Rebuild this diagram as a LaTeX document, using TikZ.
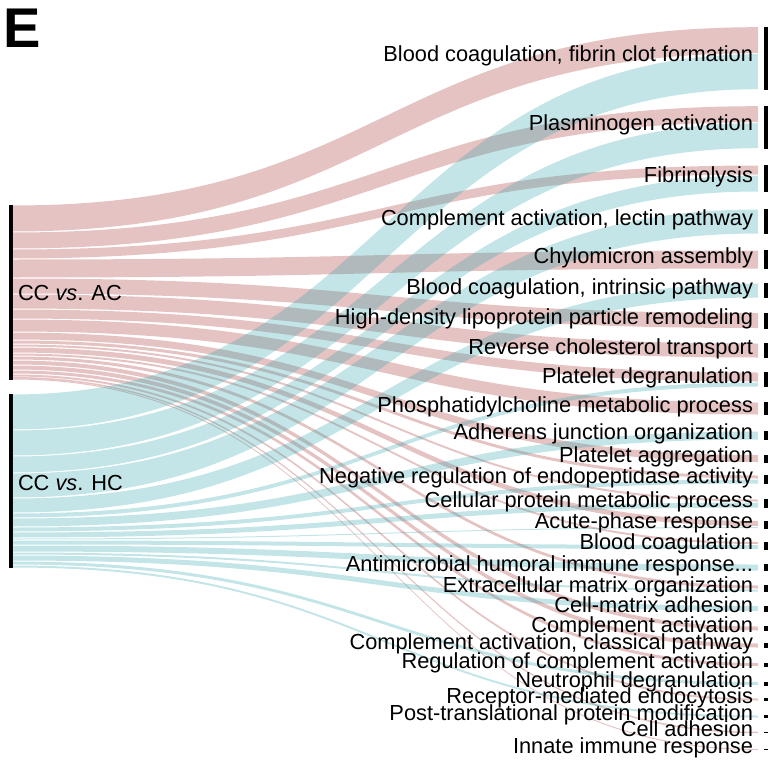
\documentclass[tikz,border=0pt]{standalone}
\usepackage{fontspec}
\setmainfont{Liberation Sans}
\usetikzlibrary{calc}
\definecolor{pinkbase}{RGB}{168,55,55}
\definecolor{cyanbase}{RGB}{55,168,175}
\tikzset{
  barnode/.style={fill=black, draw=none, inner sep=0pt, outer sep=0pt, minimum width=4pt},
  pinkflow/.style={fill=pinkbase, fill opacity=0.3, draw=none},
  cyanflow/.style={fill=cyanbase, fill opacity=0.3, draw=none},
  lab/.style={inner sep=0pt, outer sep=0pt, font=\fontsize{21.8pt}{24pt}\selectfont, text=black},
}
\def\rowdata{27/36/61.7/{Blood coagulation, fibrin clot formation},
17/26/130.7/{Plasminogen activation},
10/17/182/{Fibrinolysis},
0/25/225/{Complement activation, lectin pathway},
19/0/263/{Chylomicron assembly},
0/15/294/{Blood coagulation, intrinsic pathway},
16/0/324/{High-density lipoprotein particle remodeling},
15/0/354/{Reverse cholesterol transport},
10/5/383/{Platelet degranulation},
13/0/412/{Phosphatidylcholine metabolic process},
0/9/439/{Adherens junction organization},
8/0/462/{Platelet aggregation},
4/5/483/{Negative regulation of endopeptidase activity},
3/6/507/{Cellular protein metabolic process},
6/2/528/{Acute-phase response},
3/5/549/{Blood coagulation},
0/7/571/{Antimicrobial humoral immune response...},
4/3/592/{Extracellular matrix organization},
0/6/612/{Cell-matrix adhesion},
5/0/632/{Complement activation},
5/0/649/{Complement activation, classical pathway},
4/0/668/{Regulation of complement activation},
0/4/687/{Neutrophil degranulation},
3/0/703/{Receptor-mediated endocytosis},
0/3/720/{Post-translational protein modification},
1.5/0/736/{Cell adhesion},
1/0/753/{Innate immune response}}
\begin{document}
\begin{tikzpicture}[x=1pt,y=-1pt]
\useasboundingbox (0,0) rectangle (780,768);
\coordinate (M) at (385,0);
% left bars
\node[barnode, minimum height=174.5pt] (ac) at (10.5,292.25) {};
\node[barnode, minimum height=174pt] (hc) at (10.5,481) {};
% right bars
\foreach \a/\h/\b/\t [count=\i] in \rowdata {
  \pgfmathsetmacro\tot{\a+\h}
  \pgfmathsetmacro\cen{\b-3.5}
  \node[barnode, minimum height=\tot pt] (r\i) at (766,\cen) {};
}
% pink ribbons (CC vs. AC)
\xdef\acoff{0}
\foreach \a/\h/\b/\t [count=\i] in \rowdata {
  \ifdim \a pt>0pt
    \pgfmathsetmacro\g{ifthenelse(\a>=2,0.5,0)}
    \pgfmathsetmacro\ls{\acoff+\g}
    \pgfmathsetmacro\le{\acoff+\a-\g}
    \pgfmathsetmacro\re{\a-\g}
    \pgfmathsetmacro\aend{\acoff+\a}
    \coordinate (L1) at ([yshift=-\ls pt]ac.north east);
    \coordinate (L2) at ([yshift=-\le pt]ac.north east);
    \coordinate (R1) at ([xshift=-6pt,yshift=-\g pt]r\i.north west);
    \coordinate (R2) at ([xshift=-6pt,yshift=-\re pt]r\i.north west);
    \fill[pinkflow] (L1) .. controls (L1 -| M) and (R1 -| M) .. (R1) -- (R2) .. controls (R2 -| M) and (L2 -| M) .. (L2) -- cycle;
    \xdef\acoff{\aend}
  \fi
}
% cyan ribbons (CC vs. HC)
\xdef\hcoff{0}
\foreach \a/\h/\b/\t [count=\i] in \rowdata {
  \ifdim \h pt>0pt
    \pgfmathsetmacro\g{ifthenelse(\h>=2,0.5,0)}
    \pgfmathsetmacro\ls{\hcoff+\g}
    \pgfmathsetmacro\le{\hcoff+\h-\g}
    \pgfmathsetmacro\rs{\a+\g}
    \pgfmathsetmacro\re{\a+\h-\g}
    \pgfmathsetmacro\hend{\hcoff+\h}
    \coordinate (L1) at ([yshift=-\ls pt]hc.north east);
    \coordinate (L2) at ([yshift=-\le pt]hc.north east);
    \coordinate (R1) at ([xshift=-6pt,yshift=-\rs pt]r\i.north west);
    \coordinate (R2) at ([xshift=-6pt,yshift=-\re pt]r\i.north west);
    \fill[cyanflow] (L1) .. controls (L1 -| M) and (R1 -| M) .. (R1) -- (R2) .. controls (R2 -| M) and (L2 -| M) .. (L2) -- cycle;
    \xdef\hcoff{\hend}
  \fi
}
% right labels
\foreach \a/\h/\b/\t [count=\i] in \rowdata {
  \node[lab, anchor=base east] (l\i) at (753,\b) {\t};
}
% left labels
\node[lab, anchor=base west] (acl) at (18,300) {CC \textit{vs}. AC};
\node[lab, anchor=base west] (hcl) at (18,490) {CC \textit{vs}. HC};
% panel letter
\node[inner sep=0pt, anchor=base west, font=\fontsize{56pt}{60pt}\selectfont\bfseries] (E) at (3,48) {E};
\end{tikzpicture}
\end{document}
